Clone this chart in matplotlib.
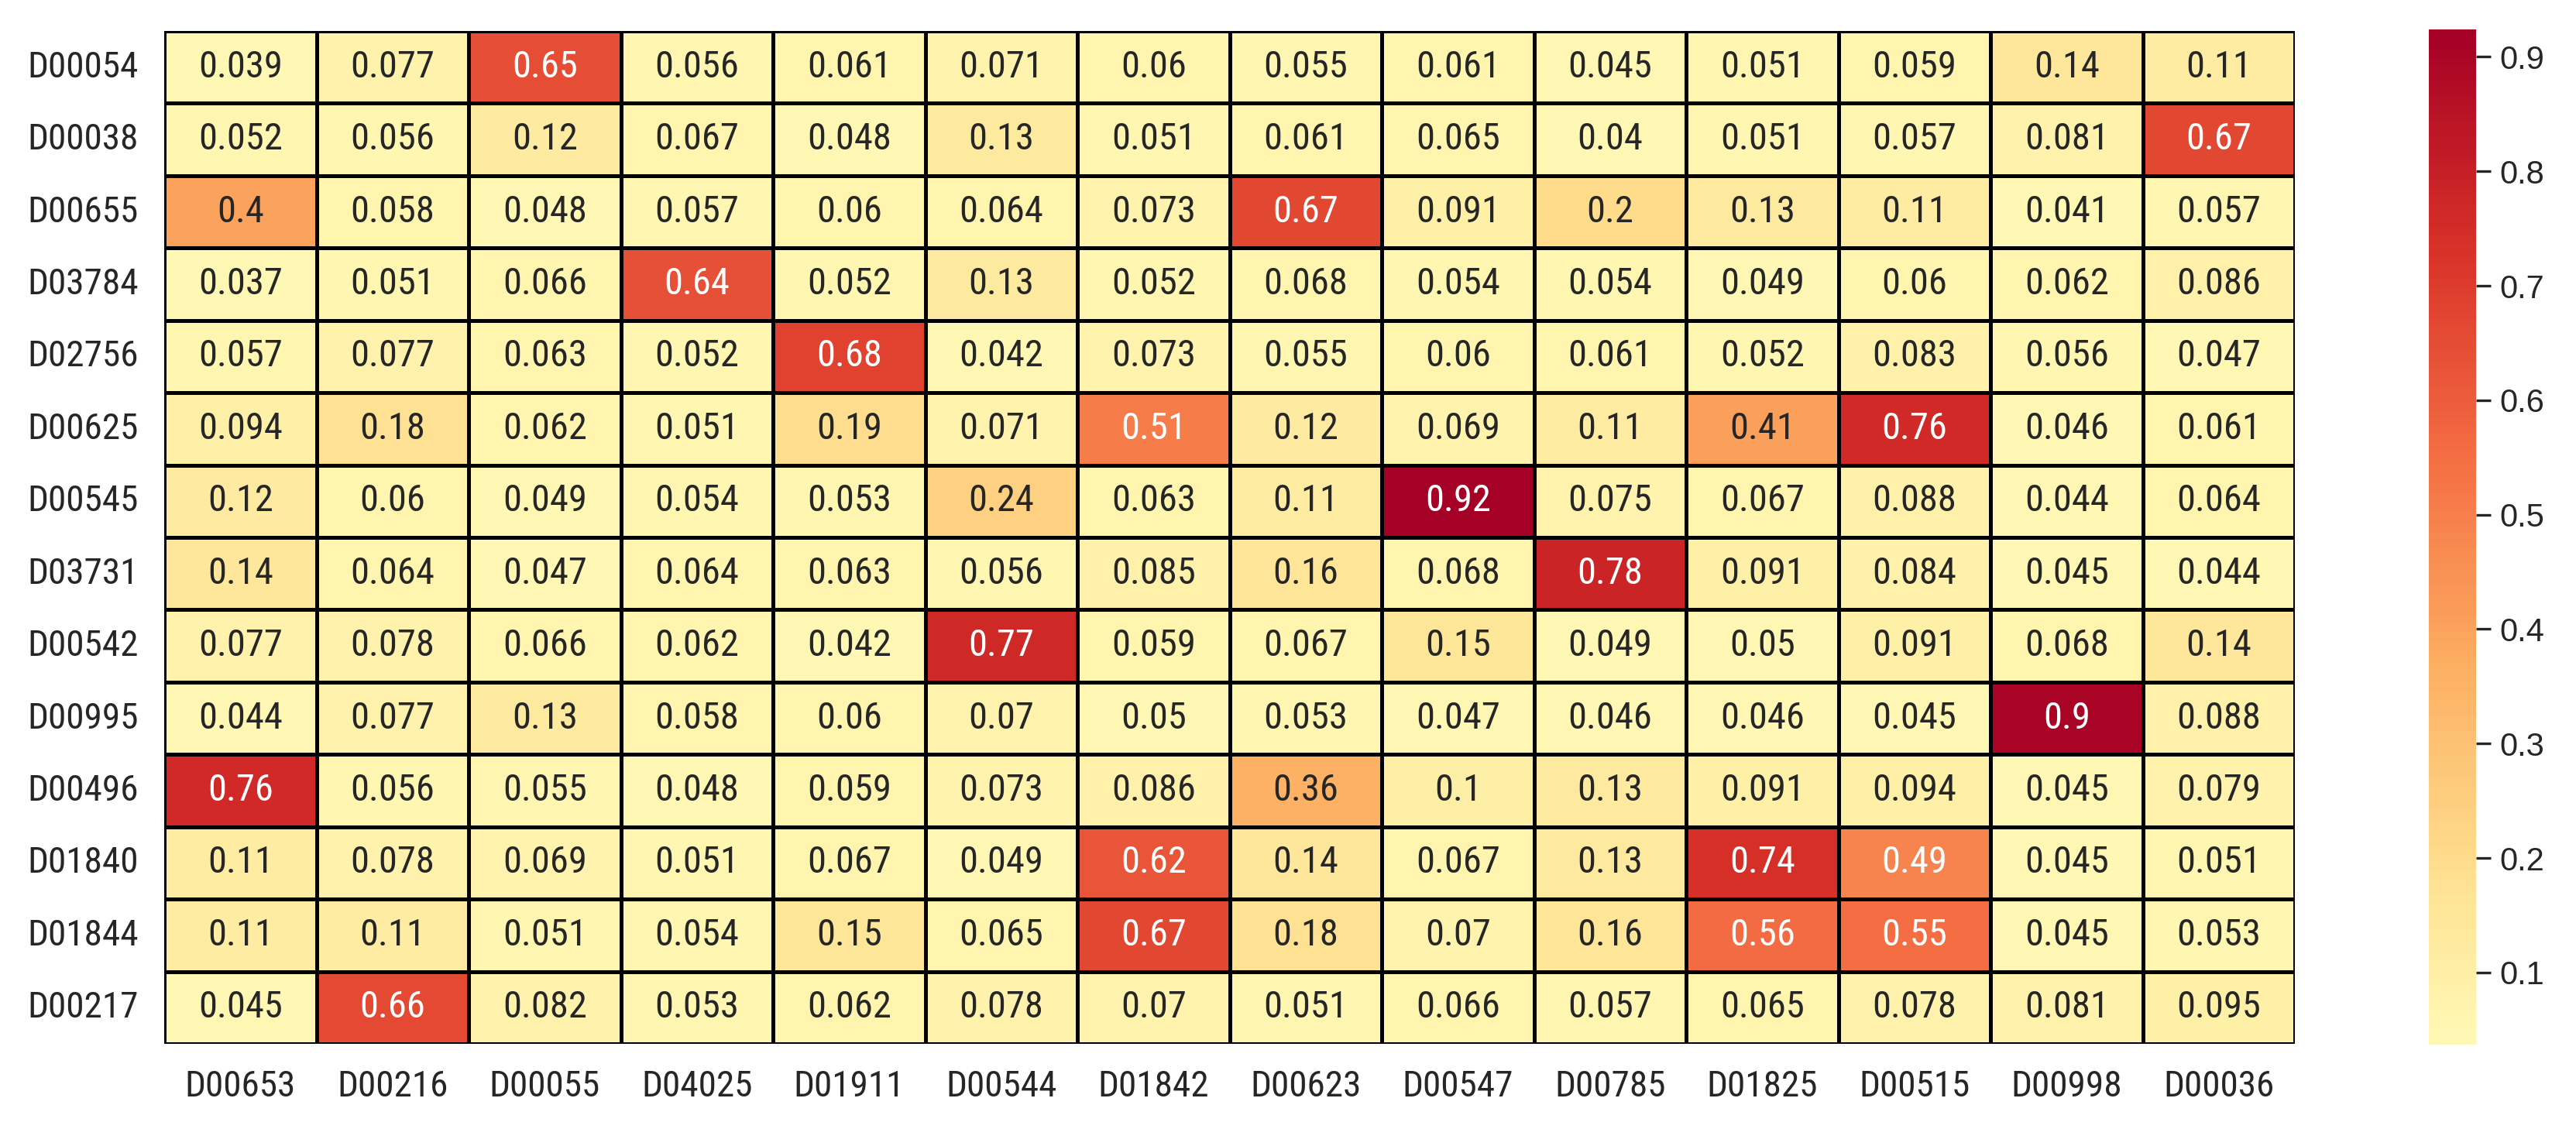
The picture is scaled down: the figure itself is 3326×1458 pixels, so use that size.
import numpy as np
import pandas as pd
import matplotlib
matplotlib.use("Agg")
import matplotlib.pyplot as plt
from matplotlib import font_manager
import seaborn as sns

rows = ["D00054", "D00038", "D00655", "D03784", "D02756", "D00625", "D00545",
        "D03731", "D00542", "D00995", "D00496", "D01840", "D01844", "D00217"]
cols = ["D00653", "D00216", "D00055", "D04025", "D01911", "D00544", "D01842",
        "D00623", "D00547", "D00785", "D01825", "D00515", "D00998", "D00036"]

r_D00054 = [0.039, 0.077, 0.65, 0.056, 0.061, 0.071, 0.06, 0.055, 0.061, 0.045, 0.051, 0.059, 0.14, 0.11]
r_D00038 = [0.052, 0.056, 0.12, 0.067, 0.048, 0.13, 0.051, 0.061, 0.065, 0.04, 0.051, 0.057, 0.081, 0.67]
r_D00655 = [0.4, 0.058, 0.048, 0.057, 0.06, 0.064, 0.073, 0.67, 0.091, 0.2, 0.13, 0.11, 0.041, 0.057]
r_D03784 = [0.037, 0.051, 0.066, 0.64, 0.052, 0.13, 0.052, 0.068, 0.054, 0.054, 0.049, 0.06, 0.062, 0.086]
r_D02756 = [0.057, 0.077, 0.063, 0.052, 0.68, 0.042, 0.073, 0.055, 0.06, 0.061, 0.052, 0.083, 0.056, 0.047]
r_D00625 = [0.094, 0.18, 0.062, 0.051, 0.19, 0.071, 0.51, 0.12, 0.069, 0.11, 0.41, 0.76, 0.046, 0.061]
r_D00545 = [0.12, 0.06, 0.049, 0.054, 0.053, 0.24, 0.063, 0.11, 0.924, 0.075, 0.067, 0.088, 0.044, 0.064]
r_D03731 = [0.14, 0.064, 0.047, 0.064, 0.063, 0.056, 0.085, 0.16, 0.068, 0.78, 0.091, 0.084, 0.045, 0.044]
r_D00542 = [0.077, 0.078, 0.066, 0.062, 0.042, 0.77, 0.059, 0.067, 0.15, 0.049, 0.05, 0.091, 0.068, 0.14]
r_D00995 = [0.044, 0.077, 0.13, 0.058, 0.06, 0.07, 0.05, 0.053, 0.047, 0.046, 0.046, 0.045, 0.9, 0.088]
r_D00496 = [0.76, 0.056, 0.055, 0.048, 0.059, 0.073, 0.086, 0.36, 0.1, 0.13, 0.091, 0.094, 0.045, 0.079]
r_D01840 = [0.11, 0.078, 0.069, 0.051, 0.067, 0.049, 0.62, 0.14, 0.067, 0.13, 0.74, 0.49, 0.045, 0.051]
r_D01844 = [0.11, 0.11, 0.051, 0.054, 0.15, 0.065, 0.67, 0.18, 0.07, 0.16, 0.56, 0.55, 0.045, 0.053]
r_D00217 = [0.045, 0.66, 0.082, 0.053, 0.062, 0.078, 0.07, 0.051, 0.066, 0.057, 0.065, 0.078, 0.081, 0.095]

values = [r_D00054, r_D00038, r_D00655, r_D03784, r_D02756, r_D00625, r_D00545,
          r_D03731, r_D00542, r_D00995, r_D00496, r_D01840, r_D01844, r_D00217]
cbar_ticks = [0.1, 0.2, 0.3, 0.4, 0.5, 0.6, 0.7, 0.8, 0.9]

df = pd.DataFrame(values, index=rows, columns=cols)

sns.set_theme(style="white")

# look for an installed narrow / condensed sans family
installed = {f.name for f in font_manager.fontManager.ttflist}
narrow_font = None
for cand in ["Liberation Sans Narrow", "Roboto Condensed", "Open Sans Condensed",
             "DejaVu Sans Condensed", "Noto Sans Condensed"]:
    if cand in installed:
        narrow_font = cand
        break
if narrow_font is None:
    for n in sorted(installed):
        if ("Narrow" in n or "Condensed" in n) and "Mono" not in n and "Serif" not in n:
            narrow_font = n
            break
narrow = ([narrow_font] if narrow_font else []) + ["Liberation Sans", "DejaVu Sans"]
plt.rcParams["font.family"] = ["Liberation Sans", "DejaVu Sans"]

W, H = 3326, 1458
dpi = 200
fig = plt.figure(figsize=(W / dpi, H / dpi), dpi=dpi)
ax = fig.add_axes([212 / W, 1 - 1348 / H, (2963 - 212) / W, (1348 - 40) / H])
cax = fig.add_axes([3136 / W, 1 - 1349 / H, (3197 - 3136) / W, (1349 - 38) / H])

fs = 17.5 if narrow_font else 15
sns.heatmap(df, ax=ax, cbar_ax=cax, cmap="RdYlBu_r", center=0, annot=True, fmt=".2g",
            linewidths=1.2, linecolor="black",
            annot_kws={"fontsize": fs, "family": narrow})

ax.tick_params(axis="both", length=0, pad=12, colors="#262626")
for lab in ax.get_xticklabels() + ax.get_yticklabels():
    lab.set_fontfamily(narrow)
    lab.set_fontsize(fs - 0.5)
    lab.set_rotation(0)
for s in ax.spines.values():
    s.set_visible(False)

cax.set_yticks(cbar_ticks)
cax.set_yticklabels([f"{t:g}" for t in cbar_ticks])
cax.tick_params(axis="y", length=7, width=1.2, colors="#262626", labelsize=15, pad=4)
for s in cax.spines.values():
    s.set_visible(False)

fig.savefig("out.png", dpi=dpi, facecolor="white")
